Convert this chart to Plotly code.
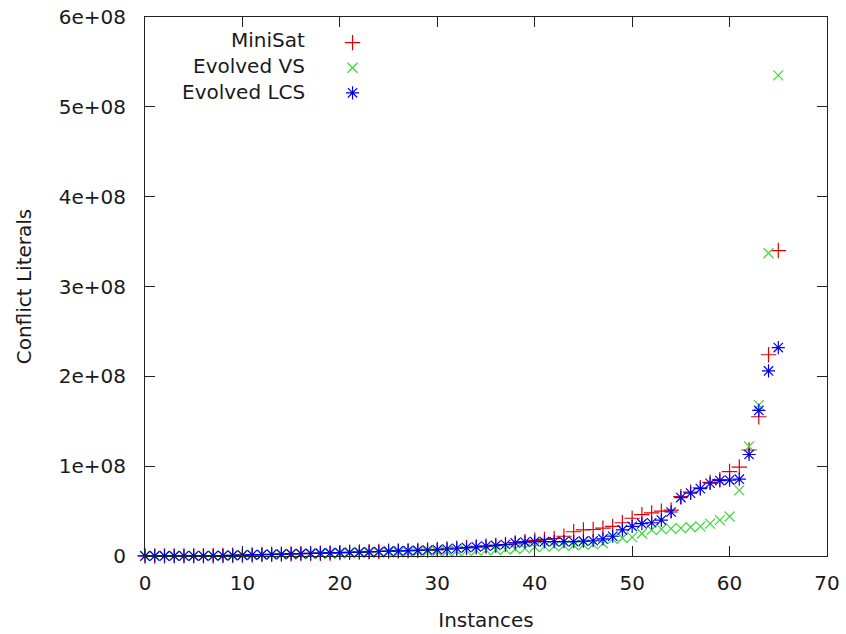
import plotly.graph_objects as go

instances = list(range(66))

# Conflict literals, in millions
minisat_m = [0.05, 0.08, 0.1, 0.12, 0.15, 0.2, 0.25, 0.3, 0.5, 0.8,
             1.0, 1.3, 1.6, 1.9, 2.1, 2.4, 2.6, 2.9, 3.1, 3.4,
             3.8, 4.1, 4.4, 4.7, 5.0, 5.4, 5.7, 6.0, 6.3, 6.7,
             7.2, 7.8, 8.6, 9.4, 10.2, 11.0, 11.8, 12.8, 14.5, 16.0,
             17.5, 18.5, 19.5, 22.0, 27.0, 29.0, 29.5, 31.0, 33.0, 37.0,
             42.0, 46.0, 48.0, 50.0, 51.0, 66.0, 71.0, 76.0, 82.0, 85.0,
             94.0, 99.0, 118.0, 155.0, 224.0, 340.0]

evolved_vs_m = [0.05, 0.07, 0.09, 0.1, 0.12, 0.15, 0.2, 0.25, 0.4, 0.6,
                0.8, 1.0, 1.3, 1.5, 1.7, 1.9, 2.1, 2.3, 2.5, 2.7,
                3.0, 3.2, 3.4, 3.6, 3.8, 4.0, 4.2, 4.4, 4.6, 4.8,
                5.0, 5.3, 5.6, 6.0, 6.3, 6.6, 7.0, 7.3, 7.8, 8.5,
                10.0, 10.5, 11.0, 11.5, 12.0, 12.5, 13.0, 14.0, 19.0, 20.0,
                21.0, 25.0, 29.0, 30.0, 30.5, 31.0, 32.0, 33.0, 36.0, 40.0,
                44.0, 73.0, 122.0, 168.0, 337.0, 535.0]

evolved_lcs_m = [0.05, 0.08, 0.1, 0.12, 0.15, 0.2, 0.25, 0.3, 0.5, 0.8,
                 1.0, 1.3, 1.6, 1.9, 2.1, 2.4, 2.6, 2.9, 3.1, 3.4,
                 3.8, 4.1, 4.4, 4.7, 5.0, 5.4, 5.7, 6.0, 6.3, 6.7,
                 7.2, 7.8, 8.6, 9.4, 10.2, 11.0, 11.8, 12.8, 14.5, 15.5,
                 16.0, 16.0, 16.0, 16.0, 16.0, 16.5, 17.0, 19.0, 22.0, 29.0,
                 33.0, 36.0, 37.0, 40.0, 49.0, 65.0, 70.0, 75.0, 81.0, 84.0,
                 84.5, 85.5, 113.0, 162.0, 206.0, 232.0]

series_names = ["MiniSat", "Evolved VS", "Evolved LCS"]

x_tick_vals = [0, 10, 20, 30, 40, 50, 60, 70]
y_tick_vals = [0, 1e8, 2e8, 3e8, 4e8, 5e8, 6e8]
y_tick_text = ["0", "1e+08", "2e+08", "3e+08", "4e+08", "5e+08", "6e+08"]

FONT = "DejaVu Sans"
TXT = "#1a1a1a"

styles = [
    dict(symbol="cross-thin-open", color="#e00000", size=11),
    dict(symbol="x-thin-open", color="#33dd33", size=10),
    dict(symbol="asterisk-open", color="#0000ee", size=11),
]
data = [minisat_m, evolved_vs_m, evolved_lcs_m]

fig = go.Figure()
for name, vals, st in zip(series_names, data, styles):
    fig.add_trace(go.Scatter(
        x=instances, y=[v * 1e6 for v in vals], mode="markers", name=name,
        legendgroup=name, cliponaxis=False,
        marker=dict(symbol=st["symbol"], size=st["size"],
                    line=dict(color=st["color"], width=1.2), color=st["color"]),
    ))

axis_common = dict(showline=True, mirror="ticks", linecolor="#222", linewidth=1,
                   ticks="inside", ticklen=10, tickcolor="#222", tickwidth=1,
                   showgrid=False, zeroline=False, automargin=False,
                   ticklabeloverflow="allow",
                   tickfont=dict(family=FONT, size=20, color=TXT))

fig.update_layout(
    width=846, height=634,
    margin=dict(l=145, r=19, t=17, b=78),
    paper_bgcolor="white", plot_bgcolor="white",
    font=dict(family=FONT, size=20, color=TXT),
    xaxis=dict(range=[0, 70], tickvals=x_tick_vals, ticklabelstandoff=9,
               title=dict(text="Instances", standoff=18,
                          font=dict(family=FONT, size=20, color=TXT)),
               **axis_common),
    yaxis=dict(range=[0, 6e8], tickvals=y_tick_vals, ticktext=y_tick_text,
               ticklabelstandoff=14,
               title=dict(text="Conflict Literals", standoff=21,
                          font=dict(family=FONT, size=20, color=TXT)),
               **axis_common),
    showlegend=True,
    legend=dict(x=0.275, y=0.985, xanchor="left", yanchor="top",
                bgcolor="rgba(0,0,0,0)", tracegroupgap=0,
                font=dict(family=FONT, size=17, color="rgba(0,0,0,0)")),
)

label_y = [0.957, 0.910, 0.861]
for name, yy in zip(series_names, label_y):
    fig.add_annotation(x=0.2375, y=yy, xref="paper", yref="paper",
                       text=name, showarrow=False, xanchor="right", yanchor="middle",
                       font=dict(family=FONT, size=20, color=TXT))

fig.write_html("out.html", config={"displayModeBar": False},
               post_script="document.body.style.margin='0';document.body.style.overflow='hidden';")
